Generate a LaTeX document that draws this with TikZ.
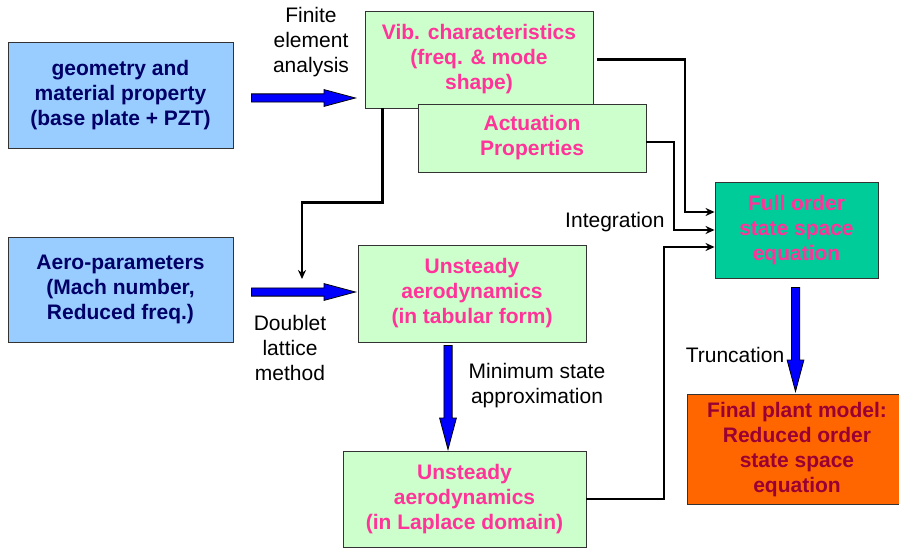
\documentclass[tikz,border=0pt]{standalone}
\usepackage{fontspec}
\setmainfont{Liberation Sans}
\usetikzlibrary{arrows.meta,shapes.arrows}
\definecolor{inblue}{HTML}{99CCFF}
\definecolor{procgreen}{HTML}{CCFFCC}
\definecolor{fullteal}{HTML}{00CC99}
\definecolor{finalorange}{HTML}{FF6600}
\definecolor{navytext}{HTML}{000066}
\definecolor{pinktext}{HTML}{FF3399}
\definecolor{redtext}{HTML}{990033}
\tikzset{
  box/.style={rectangle,draw=black!80,line width=0.9pt,align=center,inner sep=0pt,
    font=\fontsize{21}{25}\selectfont\bfseries},
  inbox/.style={box,fill=inblue,text=navytext,minimum width=225pt,minimum height=106pt},
  procbox/.style={box,fill=procgreen,text=pinktext,minimum width=228pt,minimum height=97pt},
  lbl/.style={align=center,font=\fontsize{21}{25}\selectfont},
  conn/.style={draw,line width=2.4pt,-{Stealth[length=9pt,width=8pt]}},
  bigarrow/.style={single arrow,draw=black,line width=0.8pt,fill=blue,inner sep=3.7pt,
    minimum height=104pt,single arrow head extend=4.3pt,single arrow tip angle=30,anchor=tail}
}
\begin{document}
\begin{tikzpicture}[x=1pt,y=-1pt]
  \useasboundingbox (0,0) rectangle (899,548);
  % input boxes
  \node[inbox] (geo) at (120.5,95) {geometry and\\material property\\(base plate + PZT)};
  \node[inbox,minimum height=105pt] (aero) at (120.5,289.5) {Aero-parameters\\(Mach number,\\Reduced freq.)};
  % processing boxes
  \node[procbox] (vib) at (479,59.5) {Vib. characteristics\\(freq. \& mode\\shape)};
  \node[procbox,minimum height=68pt] (act) at (532,138) {Actuation\\Properties};
  \node[procbox] (tab) at (472,293.5) {Unsteady\\aerodynamics\\(in tabular form)};
  \node[procbox,minimum width=243pt,minimum height=96pt] (lap) at (464.5,499) {Unsteady\\aerodynamics\\(in Laplace domain)};
  \node[box,fill=fullteal,text=pinktext,minimum width=163pt,minimum height=96pt] (full) at (796.5,230) {Full order\\state space\\equation};
  \node[box,fill=finalorange,text=redtext,minimum width=220pt,minimum height=110pt] (final) at (797,449.5) {Final plant model:\\Reduced order\\state space\\equation};
  % block arrows
  \node[bigarrow] (fea) at (251,98) {};
  \node[bigarrow] (dlm) at (251,292) {};
  \node[bigarrow,shape border rotate=270] (msa) at (448,345) {};
  \node[bigarrow,shape border rotate=270] (trunc) at (795.5,287) {};
  % labels
  \node[lbl] (fealbl) at (311,42) {Finite\\element\\analysis};
  \node[lbl,anchor=east] (intlbl) at (668,222) {Integration};
  \node[lbl] (dlmlbl) at (290,348) {Doublet\\lattice\\method};
  \node[lbl] (msalbl) at (537,386) {Minimum state\\approximation};
  \node[lbl] (trunclbl) at (735,355) {Truncation};
  % connectors
  \coordinate (dlmin) at (302,279);
  \draw[conn] ([xshift=18pt]vib.south west) -- ++(0,94) -| (dlmin);
  \draw[conn,shorten <=4pt] (vib.east) -- (685,59.5) |- ([yshift=18pt]full.west);
  \draw[conn] ([yshift=-4pt]act.east) -- (674,142) |- (full.west);
  \draw[conn] (lap.east) -- (664,499) |- ([yshift=-17pt]full.west);
\end{tikzpicture}
\end{document}
